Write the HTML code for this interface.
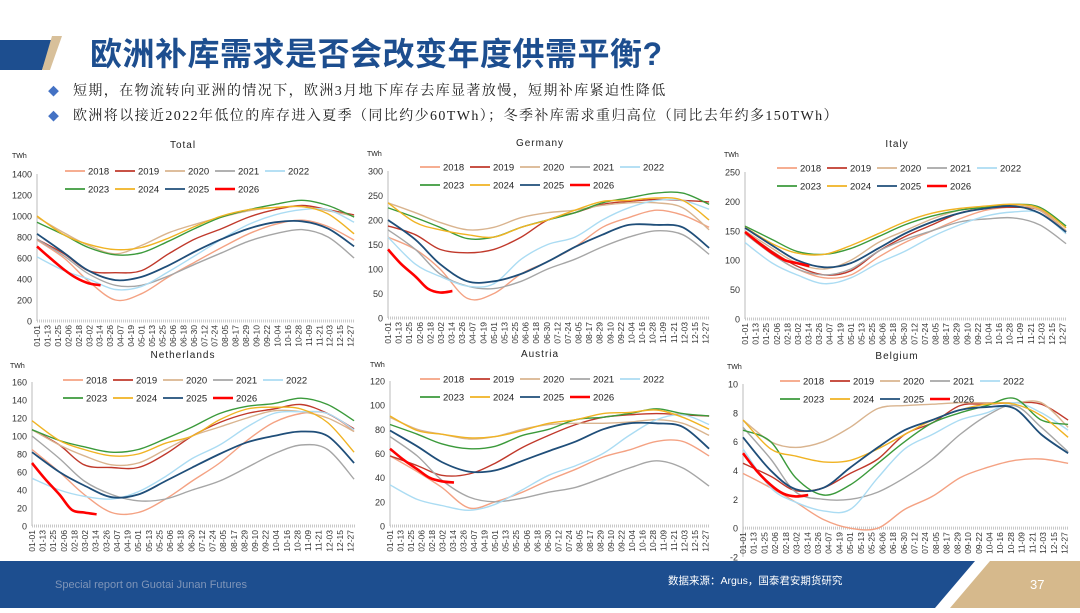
<!DOCTYPE html>
<html><head><meta charset="utf-8">
<style>
html,body{margin:0;padding:0;background:#fff;}
body{width:1080px;height:608px;overflow:hidden;position:relative;font-family:"Liberation Sans","Noto Sans CJK SC",sans-serif;}
svg text{font-family:"Liberation Sans","Noto Sans CJK SC",sans-serif;}
</style></head>
<body>
<svg id="s" width="1080" height="608" viewBox="0 0 1080 608" xmlns="http://www.w3.org/2000/svg">
  <polygon points="0,40 52,40 42,70 0,70" fill="#1d4e8f"/>
  <polygon points="52,36 62,36 50,70 42,70" fill="#d8c09a"/>
  <text x="90" y="65" font-size="32" font-weight="bold" fill="#1d4e8f" letter-spacing="0.5">欧洲补库需求是否会改变年度供需平衡?</text>
  <text x="48" y="95" font-size="11" fill="#4472c4">◆</text>
  <text x="73" y="95" font-size="14" letter-spacing="1.4" fill="#222" style="font-family:'Liberation Serif','Noto Serif CJK SC',serif">短期，在物流转向亚洲的情况下，欧洲3月地下库存去库显著放慢，短期补库紧迫性降低</text>
  <text x="48" y="120" font-size="11" fill="#4472c4">◆</text>
  <text x="73" y="120" font-size="14" letter-spacing="1.4" fill="#222" style="font-family:'Liberation Serif','Noto Serif CJK SC',serif">欧洲将以接近2022年低位的库存进入夏季（同比约少60TWh）；冬季补库需求重归高位（同比去年约多150TWh）</text>
  <polygon points="0,561 975,561 935,608 0,608" fill="#1d4e8f"/>
  <polygon points="990,561 1080,561 1080,608 950,608" fill="#d6b98c"/>
  <text x="55" y="588" font-size="11" fill="#7f95b8">Special report on Guotai Junan Futures</text>
  <text x="668" y="584" font-size="10.5" fill="#fff">数据来源：Argus，国泰君安期货研究</text>
  <text x="1030" y="589" font-size="13" fill="#fff">37</text>
  <g id="charts"></g>
</svg>
<script>
const years = ["2018","2019","2020","2021","2022","2023","2024","2025","2026"];
const colors = ["#f4a283","#c0392b","#d9b48f","#a6a6a6","#abdcf3","#3b9a3b","#f0b323","#1f4e79","#ff0000"];
const monthDays = [0,31,59,90,120,151,181,212,243,273,304,334,364];
const days2026 = [0,15,31,45,59,73];
const tickLabels = ["01-01","01-13","01-25","02-06","02-18","03-02","03-14","03-26","04-07","04-19","05-01","05-13","05-25","06-06","06-18","06-30","07-12","07-24","08-05","08-17","08-29","09-10","09-22","10-04","10-16","10-28","11-09","11-21","12-03","12-15","12-27"];

const totalValues = [
[770,600,380,200,260,420,560,700,830,920,960,900,770],
[780,640,480,460,480,640,780,880,990,1060,1100,1060,1010],
[990,840,720,640,720,840,920,990,1050,1080,1090,1050,1000],
[780,620,450,340,340,430,540,650,760,830,870,800,600],
[610,480,400,300,330,470,620,780,920,1010,1060,1060,940],
[940,820,700,630,650,760,880,990,1060,1110,1150,1100,990],
[1000,820,730,680,700,790,900,1000,1060,1080,1090,1020,830],
[830,650,480,390,420,530,660,780,880,940,950,880,710],
[710,600,490,410,360,340]];
const germanyValues = [
[165,140,100,40,50,90,115,145,185,205,220,210,185],
[188,170,140,133,140,165,200,215,232,238,242,240,237],
[235,215,195,180,185,205,215,220,230,235,235,225,180],
[180,140,90,65,60,75,100,120,145,165,178,170,130],
[165,110,85,65,70,120,150,165,200,225,240,240,222],
[225,205,185,162,165,185,200,215,235,245,255,255,232],
[235,195,180,170,165,185,200,220,238,240,245,240,200],
[200,160,110,75,75,90,115,145,170,190,190,185,143],
[140,110,85,60,52,55]];
const italyValues = [
[145,110,85,70,75,105,130,150,170,185,190,185,145],
[148,115,90,75,82,115,140,160,180,188,190,185,150],
[150,120,95,85,100,130,150,170,185,190,193,185,150],
[145,110,85,75,85,115,135,150,165,170,172,160,128],
[130,95,75,60,70,95,115,140,160,175,182,180,145],
[158,135,115,110,120,140,160,175,185,190,195,190,158],
[156,128,112,110,125,145,165,180,188,192,195,188,155],
[155,125,100,88,95,120,145,165,180,188,192,180,148],
[148,130,112,100,95,90]];
const netherlandsValues = [
[85,60,35,15,15,30,50,70,95,115,125,125,105],
[107,90,68,65,65,80,100,115,125,130,135,125,108],
[107,90,78,68,70,85,100,110,120,128,127,120,105],
[100,75,50,35,28,30,40,50,65,80,90,85,52],
[53,40,33,30,38,55,75,90,110,125,127,125,107],
[107,95,88,82,85,97,110,125,133,136,142,135,117],
[117,95,85,78,80,92,100,118,130,132,130,115,82],
[82,60,45,32,35,50,65,80,93,100,105,100,70],
[70,52,35,18,15,13]];
const austriaValues = [
[58,45,32,15,20,28,38,47,57,63,70,70,58],
[58,50,42,43,52,65,75,84,90,92,93,92,91],
[90,80,76,72,74,80,84,85,85,86,88,85,75],
[74,58,38,24,20,23,28,32,40,48,54,48,33],
[34,22,17,13,18,30,42,50,60,75,88,92,84],
[84,76,68,64,66,75,80,88,90,93,97,93,91],
[91,79,76,73,74,79,85,88,93,94,96,90,80],
[79,66,53,45,46,54,62,70,80,85,85,82,64],
[64,55,47,40,37,36]];
const belgiumValues = [
[3.8,2.8,1.8,0.6,0,0,1.3,2.2,3.5,4.2,4.7,4.8,4.5],
[4.5,3.6,2.6,2.8,3.8,4.8,6.5,7.3,8.5,8.6,8.7,8.6,7.5],
[7.5,6.0,5.6,6.0,7.0,8.3,8.5,8.6,8.7,8.7,8.7,8.7,7.0],
[7.0,4.8,2.5,2.0,2.0,2.5,3.5,4.8,6.5,7.8,8.5,7.0,5.3],
[5.5,2.8,1.8,1.2,1.3,3.5,5.5,6.5,7.5,8.0,8.7,8.0,6.8],
[6.8,6.0,3.5,2.3,3.0,4.5,6.0,7.3,8.0,8.5,9.0,7.5,7.2],
[7.5,5.5,5.0,4.6,4.7,5.5,6.5,7.5,8.2,8.6,8.6,7.8,6.3],
[6.3,4.0,2.7,2.8,4.2,5.6,6.8,7.5,8.2,8.4,8.3,6.5,5.2],
[5.2,4.0,3.0,2.4,2.2,2.3]];

const NS="http://www.w3.org/2000/svg";
const root=document.getElementById('charts');
function mk(tag,attrs,parent){const e=document.createElementNS(NS,tag);for(const k in attrs)e.setAttribute(k,attrs[k]);(parent||root).appendChild(e);return e;}

const charts=[
 {name:"total",title:"Total",vals:totalValues,L:37,R:355,T:174,B:321,min:0,max:1400,step:200,lx:65,ly:171,tx:183,ty:148,ux:12,uy:158},
 {name:"germany",title:"Germany",vals:germanyValues,L:388,R:710,T:171,B:318,min:0,max:300,step:50,lx:420,ly:167,tx:540,ty:146,ux:367,uy:156},
 {name:"italy",title:"Italy",vals:italyValues,L:745,R:1067,T:172,B:319,min:0,max:250,step:50,lx:777,ly:168,tx:897,ty:147,ux:724,uy:157},
 {name:"netherlands",title:"Netherlands",vals:netherlandsValues,L:32,R:355,T:382,B:526,min:0,max:160,step:20,lx:63,ly:380,tx:183,ty:358,ux:10,uy:368},
 {name:"austria",title:"Austria",vals:austriaValues,L:390,R:710,T:381,B:526,min:0,max:120,step:20,lx:420,ly:379,tx:540,ty:357,ux:370,uy:367},
 {name:"belgium",title:"Belgium",vals:belgiumValues,L:743,R:1069,T:384,B:557,min:-2,max:10,step:2,lx:780,ly:381,tx:897,ty:359,ux:727,uy:369}
];

function smoothPath(pts){
  let d="M"+pts[0][0].toFixed(1)+","+pts[0][1].toFixed(1);
  for(let i=0;i<pts.length-1;i++){
    const p0=pts[Math.max(0,i-1)],p1=pts[i],p2=pts[i+1],p3=pts[Math.min(pts.length-1,i+2)];
    const c1=[p1[0]+(p2[0]-p0[0])/6,p1[1]+(p2[1]-p0[1])/6];
    const c2=[p2[0]-(p3[0]-p1[0])/6,p2[1]-(p3[1]-p1[1])/6];
    d+=" C"+c1[0].toFixed(1)+","+c1[1].toFixed(1)+" "+c2[0].toFixed(1)+","+c2[1].toFixed(1)+" "+p2[0].toFixed(1)+","+p2[1].toFixed(1);
  }
  return d;
}

charts.forEach(c=>{
  const g=mk('g',{});
  
  
  const x=d=>c.L+(c.R-c.L)*d/365;
  const y=v=>c.B-(v-c.min)/(c.max-c.min)*(c.B-c.T);
  const zeroY=y(0);
  const t=mk('text',{x:c.tx,y:c.ty,'font-size':10,'text-anchor':'middle','letter-spacing':'1',fill:'#222'},g);
  t.textContent=c.title;
  
  
  const u=mk('text',{x:c.ux,y:c.uy,'font-size':7,fill:'#222'},g);
  u.textContent="TWh";
  
  
  const ya=mk('line',{x1:c.L,x2:c.L,y1:c.T,y2:c.B,stroke:'#bbb','stroke-width':1},g);
  
  
  for(let v=c.min;v<=c.max+1e-9;v+=c.step){
    const tl=mk('text',{x:c.L-5,y:y(v)+3.5,'font-size':9,'text-anchor':'end',fill:'#333'},g);
    tl.textContent=String(Math.round(v*100)/100);
    
    
  }
  const xa=mk('line',{x1:c.L,x2:c.R,y1:zeroY,y2:zeroY,stroke:'#c8c8c8','stroke-width':3,'stroke-dasharray':'1 1'},g);
  
  
  tickLabels.forEach((lab,i)=>{
    const px=x(i*12)+3;
    const tx=mk('text',{x:px,y:zeroY+4,'font-size':8.5,'text-anchor':'end',fill:'#333',transform:`rotate(-90 ${px} ${zeroY+4})`},g);
    tx.textContent=lab;
    
    
  });
  c.vals.forEach((arr,si)=>{
    const ds=si===8?days2026:monthDays;
    const pts=arr.map((v,i)=>[x(ds[i]),y(v)]);
    const p=mk('path',{d:smoothPath(pts),fill:'none',stroke:colors[si],'stroke-width':si===8?2.6:si===7?1.8:1.4,'stroke-linejoin':'round'},g);
    
    
  });
  years.forEach((yr,i)=>{
    const row=i<5?0:1, col=i<5?i:i-5;
    const lx=c.lx+col*50, ly=c.ly+row*18;
    const lg=mk('g',{},g);
    
    
    mk('line',{x1:lx,x2:lx+20,y1:ly,y2:ly,stroke:colors[i],'stroke-width':i===8?2.6:1.8},lg);
    const lt=mk('text',{x:lx+23,y:ly+3.5,'font-size':9.5,fill:'#222'},lg);
    lt.textContent=yr;
  });
});
</script>
</body></html>
